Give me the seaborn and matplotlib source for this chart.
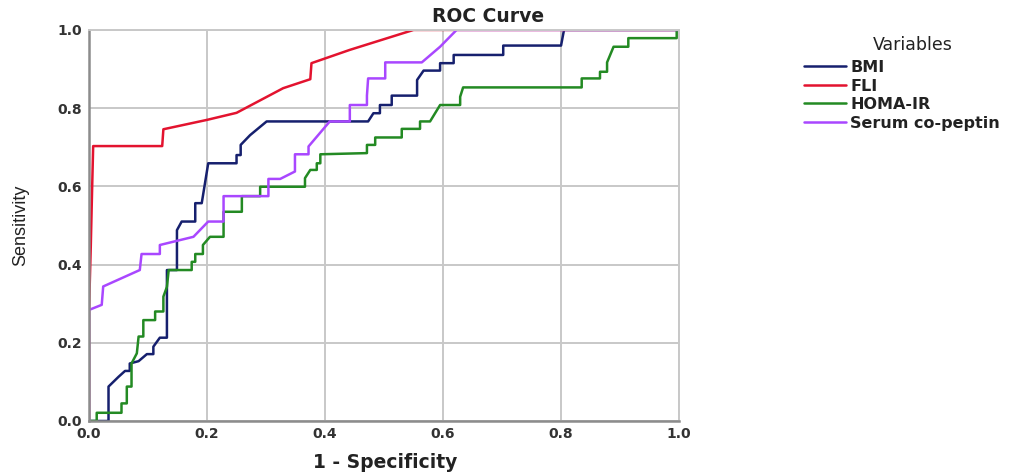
import matplotlib
matplotlib.use("Agg")
import matplotlib.pyplot as plt
import seaborn as sns
import pandas as pd

# ---- data ----
bmi_fpr = [0.0, 0.033, 0.033, 0.050, 0.061, 0.069, 0.069, 0.084, 0.098, 0.109, 0.109, 0.120, 0.132,
           0.132, 0.149, 0.149, 0.157, 0.180, 0.180, 0.191, 0.202, 0.250, 0.250, 0.257, 0.257, 0.273,
           0.301, 0.473, 0.482, 0.493, 0.493, 0.513, 0.513, 0.556, 0.556, 0.567, 0.595, 0.595, 0.618,
           0.618, 0.702, 0.702, 0.800, 0.805, 1.0]
bmi_tpr = [0.0, 0.0, 0.088, 0.113, 0.128, 0.128, 0.147, 0.153, 0.171, 0.171, 0.190, 0.213, 0.213,
           0.386, 0.386, 0.488, 0.510, 0.510, 0.557, 0.557, 0.659, 0.659, 0.680, 0.680, 0.706, 0.731,
           0.766, 0.766, 0.787, 0.787, 0.808, 0.808, 0.832, 0.832, 0.872, 0.896, 0.896, 0.915, 0.915,
           0.936, 0.936, 0.960, 0.960, 1.0, 1.0]

fli_fpr = [0.0, 0.0, 0.003, 0.005, 0.007, 0.124, 0.126, 0.200, 0.250, 0.329, 0.375, 0.377, 0.442,
           0.550, 1.0]
fli_tpr = [0.0, 0.284, 0.45, 0.58, 0.703, 0.703, 0.746, 0.770, 0.788, 0.851, 0.874, 0.915, 0.949,
           1.0, 1.0]

homa_fpr = [0.0, 0.013, 0.013, 0.055, 0.055, 0.064, 0.064, 0.072, 0.072, 0.081, 0.084, 0.092, 0.092,
            0.112, 0.112, 0.126, 0.126, 0.132, 0.135, 0.174, 0.174, 0.180, 0.180, 0.193, 0.193, 0.205,
            0.228, 0.228, 0.259, 0.259, 0.290, 0.290, 0.366, 0.366, 0.375, 0.386, 0.386, 0.392, 0.392,
            0.471, 0.471, 0.485, 0.485, 0.530, 0.530, 0.561, 0.561, 0.578, 0.595, 0.629, 0.629, 0.634,
            0.835, 0.835, 0.866, 0.866, 0.878, 0.878, 0.889, 0.914, 0.914, 0.996, 0.996]
homa_tpr = [0.0, 0.0, 0.021, 0.021, 0.045, 0.045, 0.088, 0.088, 0.147, 0.173, 0.216, 0.216, 0.258,
            0.258, 0.280, 0.280, 0.318, 0.343, 0.386, 0.386, 0.407, 0.407, 0.427, 0.427, 0.450, 0.471,
            0.471, 0.535, 0.535, 0.575, 0.575, 0.599, 0.599, 0.621, 0.642, 0.642, 0.659, 0.659, 0.682,
            0.685, 0.706, 0.706, 0.725, 0.725, 0.747, 0.747, 0.766, 0.766, 0.808, 0.808, 0.829, 0.853,
            0.853, 0.876, 0.876, 0.893, 0.893, 0.917, 0.957, 0.957, 0.979, 0.979, 1.0]

cop_fpr = [0.0, 0.0, 0.0215, 0.024, 0.086, 0.089, 0.120, 0.120, 0.177, 0.202, 0.228, 0.228, 0.304,
           0.304, 0.324, 0.349, 0.349, 0.372, 0.372, 0.408, 0.442, 0.442, 0.471, 0.471, 0.473, 0.502,
           0.502, 0.564, 0.595, 0.623, 1.0]
cop_tpr = [0.0, 0.284, 0.297, 0.344, 0.386, 0.427, 0.427, 0.450, 0.471, 0.510, 0.510, 0.575, 0.575,
           0.619, 0.619, 0.638, 0.682, 0.682, 0.702, 0.766, 0.766, 0.808, 0.808, 0.832, 0.876, 0.876,
           0.917, 0.917, 0.957, 1.0, 1.0]

variables = ["BMI", "FLI", "HOMA-IR", "Serum co-peptin"]
tick_values = [0.0, 0.2, 0.4, 0.6, 0.8, 1.0]
colors = ["#16206e", "#e3132f", "#238a23", "#a947ff"]

frames = []
for name, fx, ty in zip(variables, [bmi_fpr, fli_fpr, homa_fpr, cop_fpr],
                        [bmi_tpr, fli_tpr, homa_tpr, cop_tpr]):
    frames.append(pd.DataFrame({"fpr": fx, "tpr": ty, "Variables": name}))
df = pd.concat(frames, ignore_index=True)

sns.set_theme(style="white")
plt.rcParams["font.family"] = ["Liberation Sans", "DejaVu Sans"]
BOLD = ["DejaVu Sans", "Liberation Sans"]

fig = plt.figure(figsize=(10.27, 4.75), dpi=100)
ax = fig.add_axes([0.0867, 0.1137, 0.5745, 0.8233])

sns.lineplot(data=df, x="fpr", y="tpr", hue="Variables", units="Variables",
             estimator=None, sort=False, palette=dict(zip(variables, colors)),
             linewidth=1.8, ax=ax, legend=True)

ax.set_xlim(0, 1)
ax.set_ylim(0, 1)
ax.set_xticks(tick_values)
ax.set_yticks(tick_values)
ax.set_xticklabels([f"{t:.1f}" for t in tick_values], fontweight="bold", fontsize=10,
                   color="#333333", family=BOLD)
ax.set_yticklabels([f"{t:.1f}" for t in tick_values], fontweight="bold", fontsize=10,
                   color="#333333", family=BOLD)
ax.tick_params(axis="x", length=0, pad=4)
ax.tick_params(axis="y", length=0, pad=5)
ax.grid(True, color="#c8c8c8", linewidth=1.4)
ax.set_axisbelow(True)
for s in ["top", "right"]:
    ax.spines[s].set_color("#c8c8c8")
    ax.spines[s].set_linewidth(1.4)
for s in ["left", "bottom"]:
    ax.spines[s].set_color("#8c8c8c")
    ax.spines[s].set_linewidth(1.8)

fig.text(488 / 1027, 1 - 17 / 475, "ROC Curve", fontsize=13.5, fontweight="bold",
         color="#222222", ha="center", va="center", family=BOLD)
fig.text(385 / 1027, 1 - 463 / 475, "1 - Specificity", fontsize=13.5, fontweight="bold",
         color="#222222", ha="center", va="center", family=BOLD)
fig.text(21 / 1027, 1 - 225 / 475, "Sensitivity", fontsize=13, color="#222222",
         ha="center", va="center", rotation=90,
         family=["Liberation Sans Narrow", "Liberation Sans", "DejaVu Sans"])
ax.set_xlabel("")
ax.set_ylabel("")

ax.get_legend().remove()
handles, labels = ax.get_legend_handles_labels()
fig.text(913 / 1027, 1 - 45 / 475, "Variables", fontsize=12.5, color="#222222",
         ha="center", va="center", family=BOLD)
leg = fig.legend(handles, labels, loc="upper left",
                 bbox_to_anchor=(804 / 1027, 1 - 60 / 475), frameon=False,
                 prop={"weight": "bold", "size": 11.5, "family": BOLD},
                 handlelength=2.6, handletextpad=0.3, labelspacing=0.22,
                 borderpad=0, borderaxespad=0)
for line in leg.get_lines():
    line.set_linewidth(1.8)
for t in leg.get_texts():
    t.set_color("#222222")

fig.savefig("out.png", dpi=100)
